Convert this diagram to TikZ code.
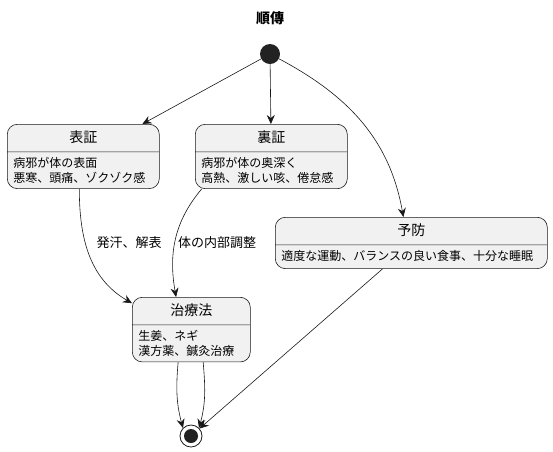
\documentclass[tikz,border=0pt]{standalone}
\usepackage{fontspec}
\setmainfont{Noto Sans CJK JP}
\usetikzlibrary{positioning}
\usetikzlibrary{calc}
\usetikzlibrary{arrows.meta}
\usetikzlibrary{shapes}

\definecolor{edgegray}{HTML}{181818}
\definecolor{boxfill}{HTML}{F1F1F1}
\definecolor{dotfill}{HTML}{222222}

\newcommand{\hd}[1]{\hfill\fontsize{14}{17}\selectfont\rule[-4.5pt]{0pt}{17pt}#1\hfill\null}

\begin{document}
\begin{tikzpicture} [
    x=1pt, y=-1pt,                  % pixel grid, y going down
    ]
% -------------------------------------------------
\tikzset{
  state/.style={draw=edgegray, fill=boxfill, line width=0.6pt, rounded corners=10pt,
    rectangle split, rectangle split parts=2, anchor=north west,
    inner xsep=6pt, inner ysep=5pt, align=left, font=\fontsize{12}{15}\selectfont},
  line/.style={draw=edgegray, line width=0.6pt, -{Stealth[length=9pt,width=8pt,inset=3pt]}},
  lbl/.style={font=\fontsize{13}{15}\selectfont, text=black}
}

    \useasboundingbox (0,0) rectangle (553,451);                   % page frame

    \node [font=\bfseries\fontsize{14}{17}\selectfont] (ttl) at (270,18) {順傳};
    \node [circle, fill=dotfill, minimum size=20pt, inner sep=0pt] (start) at (270,54) {};

    \node [state, text width=140pt] (hyo) at (7,124) {\hd{表証} \nodepart{two} 病邪が体の表面\\悪寒、頭痛、ゾクゾク感};
    \node [state, text width=140pt] (ri) at (195,124) {\hd{裏証} \nodepart{two} 病邪が体の奥深く\\高熱、激しい咳、倦怠感};
    \node [state, text width=260pt] (yobo) at (275,217) {\hd{予防} \nodepart{two} \rule[-3pt]{0pt}{11pt}適度な運動、バランスの良い食事、十分な睡眠};
    \node [state, text width=106pt] (chi) at (132,297) {\hd{治療法} \nodepart{two} 生姜、ネギ\\漢方薬、鍼灸治療};

    \node [circle, draw=edgegray, fill=white, line width=0.8pt, minimum size=22pt, inner sep=0pt] (fin) at (191,436) {};
    \fill [dotfill] (fin.center) circle (7pt);                     % end: inner dot

    \node [lbl] (lhyo) at (129,243) {発汗、解表};
    \node [lbl] (lri) at (217,243) {体の内部調整};

    \path [line] (start) -- (hyo);
    \path [line] (start) -- (ri);
    \path [line] (start) to[out=-28, in=100] (yobo.107);

    \path [line] (hyo.263) to[out=-90, in=150] (chi.156);
    \path [line] (ri.205) to[out=230, in=100] (chi.115);

    \path [line] (chi.248) to[out=-95, in=105] (fin.135);
    \path [line] (chi.290) to[out=-85, in=75] (fin.45);
    \path [line] (yobo.222) -- (fin);

\end{tikzpicture}
\end{document}
